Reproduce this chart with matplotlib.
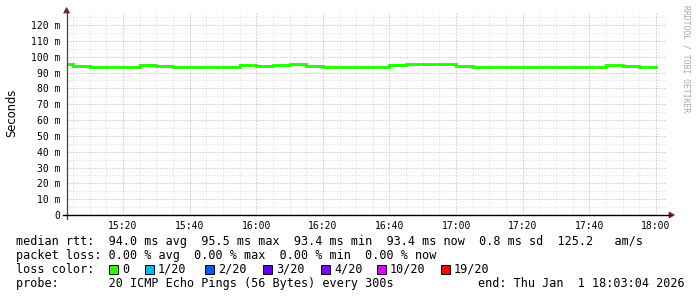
import matplotlib
matplotlib.use("Agg")
import matplotlib.pyplot as plt
from matplotlib.lines import Line2D
from matplotlib.patches import Polygon, Rectangle
import numpy as np

# ---------------- data ----------------
# step start times in minutes after 15:00 (5-minute steps)
step_minutes = list(range(0, 180, 5))
median_rtt_ms = [95.5, 94.0, 93.4, 93.4, 93.4, 94.7, 94.0, 93.4, 93.4, 93.4,
                 93.4, 94.7, 94.0, 94.7, 95.5, 94.0, 93.4, 93.4, 93.4, 93.4,
                 94.7, 95.5, 95.5, 95.5, 94.0, 93.4, 93.4, 93.4, 93.4, 93.4,
                 93.4, 93.4, 93.4, 94.7, 94.0, 93.4]
x_tick_minutes = [20, 40, 60, 80, 100, 120, 140, 160, 180]
x_tick_labels = ["15:20", "15:40", "16:00", "16:20", "16:40", "17:00",
                 "17:20", "17:40", "18:00"]
y_ticks = [0, 10, 20, 30, 40, 50, 60, 70, 80, 90, 100, 110, 120]
y_tick_labels = ["0"] + [f"{v} m" for v in y_ticks[1:]]
x_start, x_end = 3 + 4 / 60, 183 + 4 / 60
y_top = 127.6

loss_labels = ["0", "1/20", "2/20", "3/20", "4/20", "10/20", "19/20"]
loss_colors = ["#26ff00", "#00b8ff", "#0059ff", "#5e00ff", "#7e00ff",
               "#dd00ff", "#ff0000"]

line1 = "median rtt:  94.0 ms avg  95.5 ms max  93.4 ms min  93.4 ms now  0.8 ms sd  125.2   am/s"
line2 = "packet loss: 0.00 % avg  0.00 % max  0.00 % min  0.00 % now"
line3 = "loss color:"
line4 = "probe:       20 ICMP Echo Pings (56 Bytes) every 300s"
end_text = "end: Thu Jan  1 18:03:04 2026"
watermark = "RRDTOOL / TOBI OETIKER"

# ---------------- layout ----------------
W, H = 697, 297
MONO = "DejaVu Sans Mono"


def fx(x):
    return x / W


def fy(y):
    return 1 - y / H


fig = plt.figure(figsize=(W / 100, H / 100), dpi=100)
fig.patch.set_facecolor("white")

ax_l, ax_r, ax_b, ax_t = 66.6, 666.2, 215, 13
ax = fig.add_axes([fx(ax_l), fy(ax_b), (ax_r - ax_l) / W, (ax_b - ax_t) / H])
ax.set_xlim(x_start, x_end)
ax.set_ylim(0, y_top)
for s in ax.spines.values():
    s.set_visible(False)

# grids
ax.set_xticks(x_tick_minutes)
ax.set_xticks(np.arange(5, 185, 5), minor=True)
ax.set_yticks(y_ticks)
ax.set_yticks(np.arange(5, 130, 10), minor=True)
ax.set_xticklabels(x_tick_labels, fontfamily=MONO, fontsize=7)
ax.set_yticklabels(y_tick_labels, fontfamily=MONO, fontsize=7)
ax.tick_params(axis="both", which="both", length=0)
ax.tick_params(axis="y", pad=4.6)
ax.tick_params(axis="x", pad=4.0)
ax.grid(which="major", color="#821e1e", alpha=0.4, linewidth=0.72,
        linestyle=(0, (1, 2)))
ax.grid(which="minor", color="#8c8c8c", alpha=0.33, linewidth=0.72,
        linestyle=(0, (1, 2)))
ax.set_axisbelow(True)

# median line (step)
xs = step_minutes + [180]
ys = median_rtt_ms + [median_rtt_ms[-1]]
ax.step(xs, ys, where="post", color="#22ff00", linewidth=2.1, zorder=3,
        solid_joinstyle="miter")

# axes lines and arrows (pixel geometry)
fig.add_artist(Line2D([fx(ax_l), fx(ax_l)], [fy(219), fy(12)],
                      color="#404040", linewidth=0.9))
fig.add_artist(Line2D([fx(63), fx(670)], [fy(ax_b), fy(ax_b)],
                      color="#000000", linewidth=1.0))
fig.add_artist(Polygon([[fx(ax_l - 3), fy(13)], [fx(ax_l + 3), fy(13)],
                        [fx(ax_l), fy(7.5)]], closed=True,
                       facecolor="#7f1f1f", edgecolor="#7f1f1f", lw=0.5))
fig.add_artist(Polygon([[fx(669), fy(ax_b - 3)], [fx(669), fy(ax_b + 3)],
                        [fx(674.5), fy(ax_b)]], closed=True,
                       facecolor="#7f1f1f", edgecolor="#7f1f1f", lw=0.5))

# y label
fig.text(fx(11.5), fy(113), "Seconds", rotation=90, ha="center", va="center",
         fontsize=8.3, fontfamily="DejaVu Sans", color="#000000")

# watermark
fig.text(fx(686), fy(59), watermark, rotation=270, ha="center", va="center",
         fontsize=5.8, fontfamily=MONO, color="#a8a8a8")

# legend text rows
fs = 8.5
fig.text(fx(16), fy(241), line1, ha="left", va="center", fontsize=fs,
         fontfamily=MONO)
fig.text(fx(16), fy(255.5), line2, ha="left", va="center", fontsize=fs,
         fontfamily=MONO)
fig.text(fx(16), fy(269.5), line3, ha="left", va="center", fontsize=fs,
         fontfamily=MONO)
fig.text(fx(16), fy(283.5), line4, ha="left", va="center", fontsize=fs,
         fontfamily=MONO)
fig.text(fx(478), fy(283.5), end_text, ha="left", va="center", fontsize=fs,
         fontfamily=MONO)

label_x = [122, 158, 218, 276, 334, 390, 454]
for lx, lab, col in zip(label_x, loss_labels, loss_colors):
    fig.add_artist(Rectangle((fx(lx - 13), fy(273.5)), 9 / W, 9 / H,
                             facecolor=col, edgecolor="black", linewidth=0.7))
    fig.text(fx(lx), fy(269.5), lab, ha="left", va="center", fontsize=fs,
             fontfamily=MONO)

fig.savefig("out.png", dpi=100, facecolor="white")
